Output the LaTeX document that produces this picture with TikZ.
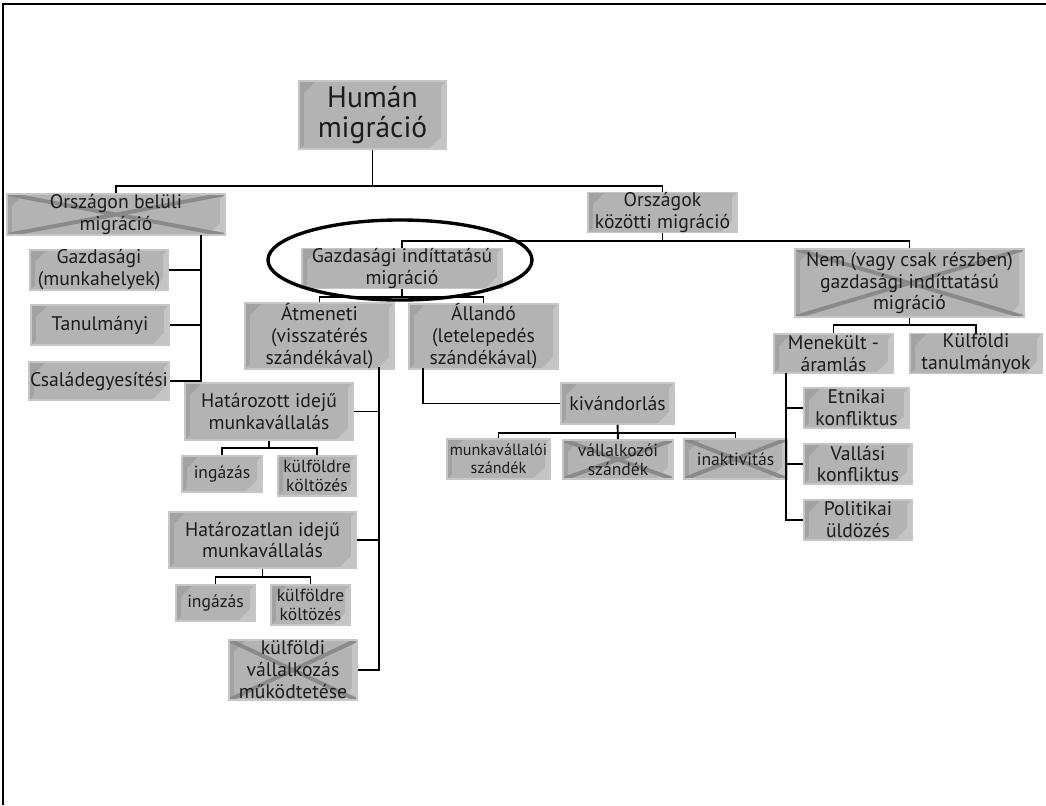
\documentclass[tikz,border=0pt]{standalone}
\usepackage{fontspec}
\setmainfont{PT Sans}
\definecolor{boxfill}{HTML}{B3B3B3}
\definecolor{boxedge}{HTML}{C6C6C6}
\definecolor{boxdark}{HTML}{A2A2A2}
\definecolor{boxlight}{HTML}{C4C4C4}
\definecolor{boxtext}{HTML}{1C1C1C}
\definecolor{xgray}{HTML}{8A8A8A}
\begin{document}
\begin{tikzpicture}[x=0.025cm,y=-0.025cm,
		box/.style={draw=boxedge, line width=1.2pt, fill=boxfill, text=boxtext, align=center, inner sep=0pt, path picture={\bevel}, font=\fontsize{14}{15.6}\selectfont},
		sz/.style 2 args={minimum width=#1*0.025cm, minimum height=#2*0.025cm},
		crossed/.style={path picture={\bevel\crossout}},
		mid/.style={font=\fontsize{12.5}{13.5}\selectfont},
		small/.style={font=\fontsize{11.5}{12.5}\selectfont},
		link/.style={line width=1.4pt, black}]
		
		\useasboundingbox (0,0) rectangle (1046,805);
		
		%Bevel of a box
		\def\bevel{%
			\fill[boxdark] (path picture bounding box.north west) -- ++(12pt,0pt) -- ++(-8.5pt,-8.5pt) -- ([shift={(3.5pt,3.5pt)}]path picture bounding box.south west) -- (path picture bounding box.south west) -- cycle;
			\fill[boxlight] (path picture bounding box.south east) -- ++(-12pt,0pt) -- ++(8.5pt,8.5pt) -- ([shift={(-3.5pt,-3.5pt)}]path picture bounding box.north east) -- (path picture bounding box.north east) -- cycle;}
		%Cross over a box
		\def\crossout{%
			\draw[xgray, line width=2.8pt] (path picture bounding box.north west) -- (path picture bounding box.south east) (path picture bounding box.south west) -- (path picture bounding box.north east);}
		
		%Frame
		\draw[line width=1.2pt] (3,805) -- (3,4) -- (1046,4);
		
		%Top
		\node[box, sz={147}{68}, font=\fontsize{21}{22}\selectfont] (hum) at (372.5,115) {Humán\\migráció};
		\node[box, crossed, sz={218}{41}] (belul) at (116,214.5) {Országon belüli\\migráció};
		\node[box, sz={149}{39}] (kozotti) at (662.5,212.5) {Országok\\közötti migráció};
		
		%Within the country
		\node[box, sz={138}{40}] (gmh) at (99,270) {Gazdasági\\(munkahelyek)};
		\node[box, sz={138}{40}] (tan) at (100,325) {Tanulmányi};
		\node[box, sz={140}{38}] (csal) at (99,381) {Családegyesítési};
		
		%Between countries
		\node[box, sz={200}{37}] (gazd) at (402,268.5) {Gazdasági indíttatású\\migráció};
		\node[box, crossed, sz={229}{68}] (nem) at (909.5,283) {Nem (vagy csak részben)\\gazdasági indíttatású\\migráció};
		
		%Economic
		\node[box, sz={149}{62}] (atm) at (319.5,336) {Átmeneti\\(visszatérés\\szándékával)};
		\node[box, sz={149}{63}] (all) at (483.5,336.5) {Állandó\\(letelepedés\\szándékával)};
		\node[box, sz={168}{57}] (hat) at (269,411.5) {Határozott idejű\\munkavállalás};
		\node[box, mid, sz={80}{36}] (ing1) at (222,474) {ingázás};
		\node[box, mid, sz={78}{40}] (kulf1) at (317,476) {külföldre\\költözés};
		\node[box, sz={187}{56}] (hatlan) at (262.5,540) {Határozatlan idejű\\munkavállalás};
		\node[box, mid, sz={79}{36}] (ing2) at (215.5,603) {ingázás};
		\node[box, mid, sz={79}{40}] (kulf2) at (310.5,605) {külföldre\\költözés};
		\node[box, crossed, sz={128}{60}] (vall) at (293,670) {külföldi\\vállalkozás\\működtetése};
		\node[box, sz={113}{41}] (kiv) at (617.5,403.5) {kivándorlás};
		\node[box, small, sz={103}{40}] (munk) at (498.5,459) {munkavállalói\\szándék};
		\node[box, crossed, mid, sz={110}{39}] (vszand) at (618,459.5) {vállalkozói\\szándék};
		\node[box, crossed, mid, sz={103}{40}] (inakt) at (735.5,459) {inaktivitás};
		
		%Non-economic
		\node[box, sz={119}{39}] (men) at (833.5,353.5) {Menekült -\\áramlás};
		\node[box, sz={132}{39}] (ktan) at (976,353.5) {Külföldi\\tanulmányok};
		\node[box, sz={105}{40}] (etn) at (856.5,408) {Etnikai\\konfliktus};
		\node[box, sz={108}{40}] (vallasi) at (858,464) {Vallási\\konfliktus};
		\node[box, sz={108}{40}] (pol) at (858,520) {Politikai\\üldözés};
		
		%Connectors
		\coordinate (hb) at (372.5,186);
		\draw[link] (hum) -- (hb);
		\draw[link] (belul.north) |- (hb) -| (kozotti.north);
		
		\coordinate (lb) at (201,235);
		\draw[link] (lb) |- (csal.east);
		\draw[link] (gmh.east) -- (gmh.east -| lb);
		\draw[link] (tan.east) -- (tan.east -| lb);
		
		\coordinate (kb) at (662.5,241);
		\draw[link] (kozotti) -- (kb);
		\draw[link] (gazd.north) |- (kb) -| (nem.north);
		
		\coordinate (gb) at (402,297);
		\draw[link] (gazd) -- (gb);
		\draw[link] (atm.north) |- (gb) -| (all.north);
		
		\coordinate (ab) at (379,367);
		\draw[link] (ab) |- (vall.east);
		\draw[link] (hat.east) -- (hat.east -| ab);
		\draw[link] (hatlan.east) -- (hatlan.east -| ab);
		
		\coordinate (hj) at (269,448);
		\draw[link] (hat) -- (hj);
		\draw[link] (ing1.north) |- (hj) -| (kulf1.north);
		
		\coordinate (hlj) at (262.5,577);
		\draw[link] (hatlan) -- (hlj);
		\draw[link] (ing2.north) |- (hlj) -| (kulf2.north);
		
		\coordinate (alb) at (423,368);
		\draw[link] (alb) |- (kiv.west);
		\coordinate (kj) at (617.5,433);
		\draw[link] (kiv) -- (vszand);
		\draw[link] (munk.north) |- (kj) -| (inakt.north);
		
		\coordinate (nj) at (909.5,325);
		\draw[link] (nem) -- (nj);
		\draw[link] (men.north) |- (nj) -| (ktan.north);
		\coordinate (mb) at (786,373);
		\draw[link] (mb) |- (pol.west);
		\draw[link] (etn.west) -- (etn.west -| mb);
		\draw[link] (vallasi.west) -- (vallasi.west -| mb);
		
		%Highlight
		\draw[line width=2.4pt] (400,260) ellipse [x radius=3.3cm, y radius=1cm];
		
	\end{tikzpicture}
\end{document}
